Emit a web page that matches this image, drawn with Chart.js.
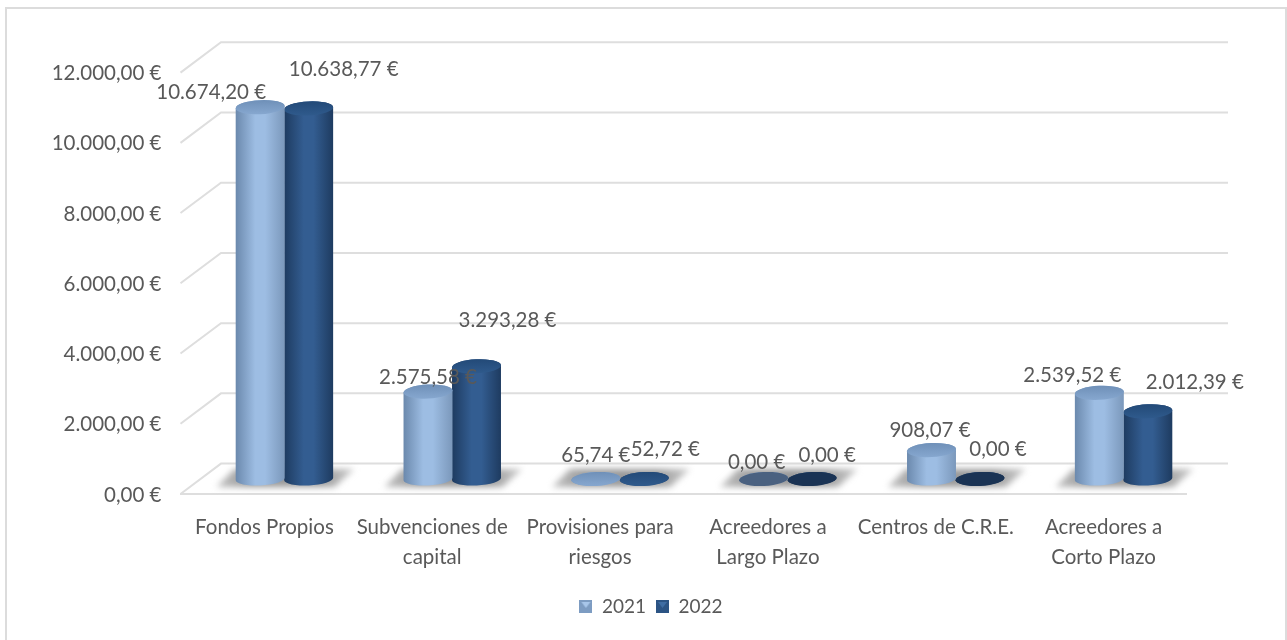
<!DOCTYPE html>
<html>
<head>
  <meta charset="UTF-8">
  <title>Balance 2021 - 2022</title>
  <script src="https://cdn.jsdelivr.net/npm/chart.js"></script>
  <style>
    html, body { margin: 0; padding: 0; background: #fff; overflow: hidden; }
    #card { position: absolute; left: 5px; top: 7px; width: 1278px; height: 700px; border: 2px solid #dcdcdc; }
    #balance { position: absolute; left: 0; top: 0; }
  </style>
</head>
<body>

<div id="card"></div>
<canvas id="balance" width="1287" height="640"></canvas>

<script>
  const categories = [
    'Fondos Propios',
    ['Subvenciones de', 'capital'],
    ['Provisiones para', 'riesgos'],
    ['Acreedores a', 'Largo Plazo'],
    'Centros de C.R.E.',
    ['Acreedores a', 'Corto Plazo']
  ];
  const years = ['2021', '2022'];
  const values2021 = [10674.20, 2575.58, 65.74, 0, 908.07, 2539.52];
  const values2022 = [10638.77, 3293.28, 52.72, 0, 0, 2012.39];

  // hand placed value labels, relative to the top of each bar
  const labelShift = [
    [[-49, -15], [0, -14], [0, -24], [-7, -20], [-1.5, -20], [-27, -17]],
    [[35, -39], [31, -46], [21, -31], [15, -27], [18, -33], [47, -29]]
  ];

  const colors = ['#8aabd3', '#2c5484'];
  const cylinders = [
    { side: ['#6b89ad', '#9dbde3', '#9dbde3', '#7b98bb'], top: ['#6f90b8', '#86a7cf'], empty: '#4a6180', mark: ['#7d9cc2', '#a8c6ea'] },
    { side: ['#1e3b60', '#335d91', '#335d91', '#1e3b60'], top: ['#234a78', '#2f5a8c'], empty: '#1a3354', mark: ['#2c5484', '#3f6da3'] }
  ];

  const FONT = 'Lato, sans-serif';
  const GREY = '#595959';
  const DEPTH = 20.5;
  const euro = v => v.toLocaleString('de-DE', { minimumFractionDigits: 2, maximumFractionDigits: 2 }) + ' €';

  // cylinders instead of the flat bars
  Chart.BarElement.prototype.draw = function (ctx) {
    const set = cylinders[colors.indexOf(this.options.backgroundColor)];
    const r = 24.5, ry = 7, tilt = -0.05;
    const bottom = this.base - 3;
    const top = Math.min(this.y, bottom);

    ctx.save();
    const side = ctx.createLinearGradient(this.x - r, 0, this.x + r, 0);
    side.addColorStop(0, set.side[0]);
    side.addColorStop(0.4, set.side[1]);
    side.addColorStop(0.6, set.side[2]);
    side.addColorStop(1, set.side[3]);
    ctx.fillStyle = side;
    ctx.beginPath();
    ctx.ellipse(this.x, bottom, r, ry - 0.5, tilt, Math.PI, 0, true);
    ctx.ellipse(this.x, top, r, ry, tilt, 0, Math.PI, true);
    ctx.closePath();
    ctx.fill();

    const cap = ctx.createLinearGradient(0, top - ry, 0, top + ry);
    if (this.y >= this.base) {
      cap.addColorStop(0, set.empty);
      cap.addColorStop(1, set.empty);
    } else {
      cap.addColorStop(0, set.top[0]);
      cap.addColorStop(1, set.top[1]);
    }
    ctx.fillStyle = cap;
    ctx.beginPath();
    ctx.ellipse(this.x, top, r, ry, tilt, 0, Math.PI * 2);
    ctx.fill();
    ctx.restore();
  };

  // little bevelled squares for the legend
  function marker(set) {
    const c = document.createElement('canvas');
    c.width = 13;
    c.height = 13;
    const m = c.getContext('2d');
    m.fillStyle = set.mark[0];
    m.fillRect(0, 0, 13, 13);
    m.fillStyle = set.mark[1];
    m.beginPath();
    m.moveTo(2, 2);
    m.lineTo(11, 2);
    m.lineTo(6.5, 8);
    m.closePath();
    m.fill();
    return c;
  }
  const markers = cylinders.map(marker);

  const room = {
    id: 'room',
    // the tick labels hang out of the narrow y box, keep them from being clipped
    afterLayout(chart) {
      chart.scales.y.left = 0;
    },
    beforeDatasetsDraw(chart) {
      const { ctx, chartArea } = chart;
      const y = chart.scales.y, x = chart.scales.x;
      const wall = -18.4, front = 12;
      ctx.save();
      ctx.strokeStyle = '#dedede';
      ctx.lineWidth = 2;
      y.ticks.forEach(t => {
        const py = y.getPixelForValue(t.value);
        ctx.beginPath();
        ctx.moveTo(chartArea.left - DEPTH + 0.5, py + front);
        ctx.lineTo(chartArea.left + DEPTH, py + wall);
        ctx.lineTo(chartArea.right + DEPTH, py + wall);
        ctx.stroke();
      });
      const base = y.getPixelForValue(0);
      ctx.beginPath();
      ctx.moveTo(chartArea.left - DEPTH, base + front);
      ctx.lineTo(chartArea.right - DEPTH, base + front);
      ctx.stroke();

      // floor shadow under each group
      ctx.filter = 'blur(3px)';
      categories.forEach((c, i) => {
        const cx = x.getPixelForValue(i);
        const g = ctx.createLinearGradient(cx - 70, 0, cx + 72, 0);
        g.addColorStop(0, '#c4c4c4');
        g.addColorStop(0.25, '#9a9a9a');
        g.addColorStop(0.75, '#9a9a9a');
        g.addColorStop(1, '#d0d0d0');
        ctx.fillStyle = g;
        ctx.beginPath();
        ctx.moveTo(cx - 68, base + 5);
        ctx.lineTo(cx + 50, base + 5);
        ctx.lineTo(cx + 70, base - 13);
        ctx.lineTo(cx - 50, base - 13);
        ctx.closePath();
        ctx.fill();
      });
      ctx.restore();
    },
    afterDatasetsDraw(chart) {
      const { ctx } = chart;
      ctx.save();
      ctx.font = '20.5px ' + FONT;
      ctx.fillStyle = GREY;
      ctx.textAlign = 'center';
      ctx.textBaseline = 'middle';
      chart.data.datasets.forEach((ds, d) => {
        chart.getDatasetMeta(d).data.forEach((bar, i) => {
          const s = labelShift[d][i];
          ctx.fillText(euro(ds.data[i]), bar.x + s[0], bar.y + s[1]);
        });
      });
      ctx.restore();
    }
  };

  new Chart(document.getElementById('balance'), {
    type: 'bar',
    data: {
      labels: categories,
      datasets: [
        { label: years[0], data: values2021, backgroundColor: colors[0], barThickness: 48.5, clip: false },
        { label: years[1], data: values2022, backgroundColor: colors[1], barThickness: 48.5, clip: false }
      ]
    },
    plugins: [room],
    options: {
      responsive: false,
      animation: false,
      layout: { padding: { left: 94.5, right: 79.5, top: 60.6, bottom: 14 } },
      plugins: {
        tooltip: { enabled: false },
        legend: {
          position: 'bottom',
          labels: {
            usePointStyle: true, boxWidth: 13, boxHeight: 13, padding: 10,
            color: GREY, font: { family: FONT, size: 19 },
            generateLabels: chart => Chart.defaults.plugins.legend.labels.generateLabels(chart)
              .map((l, i) => ({ ...l, pointStyle: markers[i] }))
          }
        }
      },
      scales: {
        x: {
          grid: { display: false },
          border: { display: false },
          afterFit(s) { s.height = 105; },
          ticks: {
            autoSkip: false, maxRotation: 0, labelOffset: -20, padding: 22.5,
            color: GREY, font: { family: FONT, size: 20.5, lineHeight: 1.45 }
          }
        },
        y: {
          min: 0,
          max: 12000,
          grid: { display: false },
          border: { display: false },
          afterFit(s) { s.width = 106; },
          ticks: {
            stepSize: 2000, labelOffset: 13, padding: 31,
            color: GREY, font: { family: FONT, size: 20.5 },
            callback: v => euro(v)
          }
        }
      }
    }
  });
</script>

</body>
</html>
